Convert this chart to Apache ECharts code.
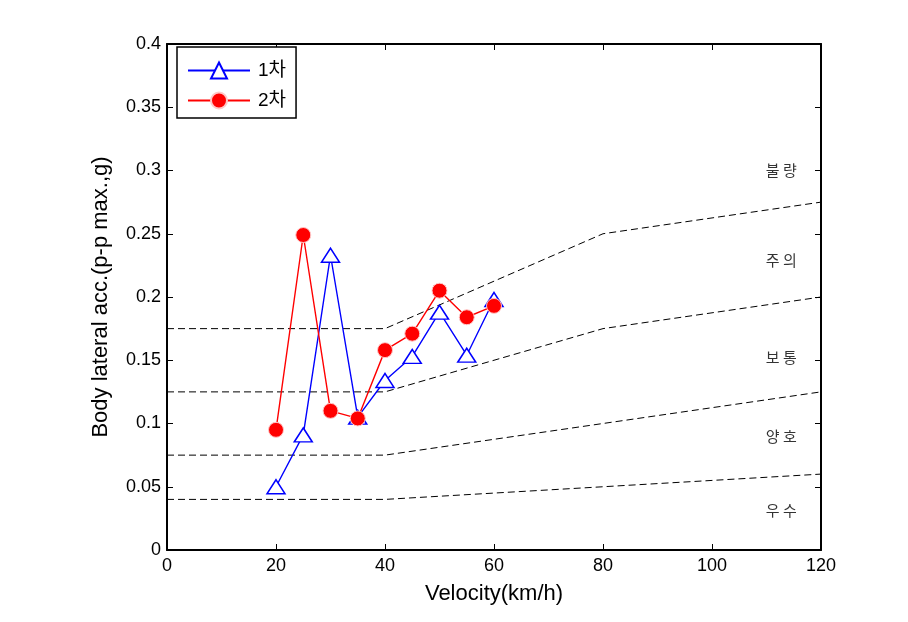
<!DOCTYPE html>
<html><head><meta charset="utf-8">
<script src="https://cdn.jsdelivr.net/npm/echarts@6/dist/echarts.min.js"></script>
<style>html,body{margin:0;padding:0;background:#fff}#c{width:908px;height:622px}</style>
</head><body><div id="c"></div>
<script>
const velocities = [20, 25, 30, 35, 40, 45, 50, 55, 60];
const run1 = [0.050, 0.091, 0.233, 0.105, 0.134, 0.153, 0.188, 0.154, 0.198];
const run2 = [0.095, 0.249, 0.110, 0.104, 0.158, 0.171, 0.205, 0.184, 0.193];
const boundX = [0, 40, 80, 120];
const bound1 = [0.040, 0.040, 0.050, 0.060];
const bound2 = [0.075, 0.075, 0.100, 0.125];
const bound3 = [0.125, 0.125, 0.175, 0.200];
const bound4 = [0.175, 0.175, 0.250, 0.275];
const gradeNames = ['불 량', '주 의', '보 통', '양 호', '우 수'];
const gradeY = [0.300, 0.229, 0.152, 0.090, 0.031];
const gradeX = 112.7;
const seriesNames = ['1차', '2차'];

const pair = (xs, ys) => xs.map((x, i) => [x, ys[i]]);
const font = '"Liberation Sans", Arial, "Noto Sans CJK KR", sans-serif';
const chart = echarts.init(document.getElementById('c'));
const dashed = ys => ({
  type: 'line', data: pair(boundX, ys), symbol: 'none', silent: true,
  lineStyle: { color: '#000', width: 1, type: [7, 4] }, z: 1
});
const axisCommon = {
  axisLine: { show: true, onZero: false, lineStyle: { color: '#000', width: 2 } },
  axisTick: { show: true, inside: true, length: 6, lineStyle: { color: '#000', width: 1 } },
  splitLine: { show: false },
};
chart.setOption({
  animation: false,
  grid: { left: 167, right: 87, top: 44, bottom: 72 },
  xAxis: [
    Object.assign({ type: 'value', min: 0, max: 120, interval: 20,
      name: 'Velocity(km/h)', nameLocation: 'middle', nameGap: 33,
      nameTextStyle: { fontFamily: font, fontSize: 22, color: '#000' },
      axisLabel: { fontFamily: font, fontSize: 18, color: '#000', margin: 7 } }, axisCommon),
    Object.assign({ type: 'value', min: 0, max: 120, interval: 20, position: 'top',
      axisLabel: { show: false } }, axisCommon)
  ],
  yAxis: [
    Object.assign({ type: 'value', min: 0, max: 0.4, interval: 0.05,
      name: 'Body lateral acc.(p-p max.,g)', nameLocation: 'middle', nameGap: 55,
      nameTextStyle: { fontFamily: font, fontSize: 22, color: '#000' },
      axisLabel: { fontFamily: font, fontSize: 18, color: '#000', margin: 6,
        formatter: v => String(+v.toFixed(2)) } }, axisCommon),
    Object.assign({ type: 'value', min: 0, max: 0.4, interval: 0.05, position: 'right',
      axisLabel: { show: false } }, axisCommon)
  ],
  legend: {
    left: 177, top: 47, orient: 'vertical', itemGap: 11, itemWidth: 62, itemHeight: 20,
    padding: [14, 10, 8, 10], borderColor: '#000', borderWidth: 1.5, backgroundColor: '#fff',
    textStyle: { fontFamily: font, fontSize: 19, color: '#000', padding: [0, 0, 0, 3] },
    data: seriesNames
  },
  series: [
    dashed(bound1), dashed(bound2), dashed(bound3), dashed(bound4),
    {
      name: seriesNames[0], type: 'line', data: pair(velocities, run1),
      symbol: 'triangle', symbolSize: [18, 14],
      itemStyle: { color: '#fff', borderColor: '#0000ff', borderWidth: 1.5 },
      lineStyle: { color: '#0000ff', width: 1.4 }, z: 3
    },
    {
      name: seriesNames[1], type: 'line', data: pair(velocities, run2),
      symbol: 'circle', symbolSize: 15,
      itemStyle: { color: '#ff0000', borderColor: '#ffc8c8', borderWidth: 1 },
      lineStyle: { color: '#ff0000', width: 1.4 }, z: 4
    },
    {
      type: 'scatter', silent: true, symbolSize: 0,
      data: gradeY.map((y, i) => ({ value: [gradeX, y], name: gradeNames[i] })),
      label: { show: true, position: 'inside', formatter: p => p.name,
        fontFamily: '"Noto Sans CJK KR"', fontSize: 15, color: '#000' }, z: 5
    }
  ]
});
</script></body></html>
